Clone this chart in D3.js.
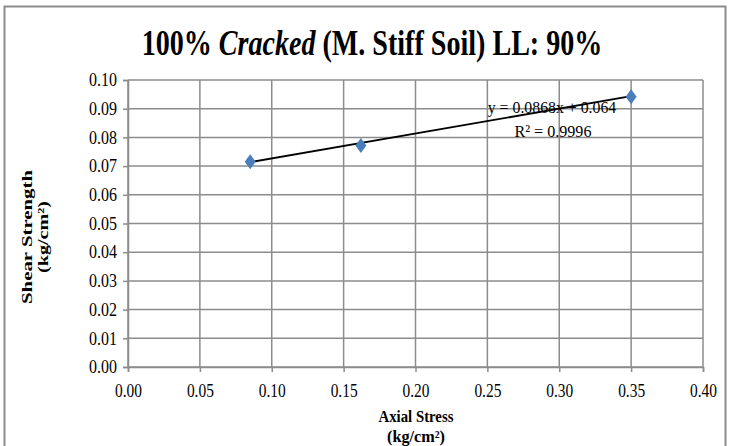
<!DOCTYPE html>
<html>
<head>
<meta charset="utf-8">
<script src="https://cdn.jsdelivr.net/npm/d3@7"></script>
<style>
  html, body { margin: 0; padding: 0; background: #fff; }
  svg { display: block; font-family: "Liberation Serif", "Times New Roman", serif; }
</style>
</head>
<body>
<svg id="chart" width="734" height="446"></svg>
<script>
// Axial stress vs shear strength, 100% cracked medium stiff soil
const axialStress   = [0.085, 0.162, 0.350];
const shearStrength = [0.0715, 0.0772, 0.0942];
const xTicks = [0.00, 0.05, 0.10, 0.15, 0.20, 0.25, 0.30, 0.35, 0.40];
const yTicks = [0.00, 0.01, 0.02, 0.03, 0.04, 0.05, 0.06, 0.07, 0.08, 0.09, 0.10];
const slope = 0.0868, intercept = 0.064, rSquared = 0.9996;

const svg = d3.select("#chart");
const plot = { left: 128, right: 703, top: 80, bottom: 367 };

const x = d3.scaleLinear().domain([0, 0.4]).range([plot.left, plot.right]);
const y = d3.scaleLinear().domain([0, 0.1]).range([plot.bottom, plot.top]);

// squeeze a text element horizontally to a given width around its anchor
function fit(sel, width, cx) {
  const w = sel.node().getBBox().width;
  const k = width / w;
  sel.attr("transform", `translate(${cx},0) scale(${k},1) translate(${-cx},0)`);
}

// outer chart frame
svg.append("path")
  .attr("d", "M4.5,450 V6.5 H725.5 V450")
  .attr("fill", "none").attr("stroke", "#8c8c8c").attr("stroke-width", 2);

// title
const title = svg.append("text")
  .attr("x", 372).attr("y", 55).attr("text-anchor", "middle")
  .attr("font-size", 36).attr("font-weight", "bold").attr("fill", "#000");
title.append("tspan").text("100% ");
title.append("tspan").attr("font-style", "italic").text("Cracked");
title.append("tspan").text(" (M. Stiff Soil) LL: 90%");
fit(title, 461, 372);

// gridlines
const grid = svg.append("g").attr("stroke", "#8c8c8c").attr("stroke-width", 1.5);
grid.selectAll(".gy").data(yTicks).join("line")
  .attr("x1", plot.left).attr("x2", plot.right)
  .attr("y1", d => y(d)).attr("y2", d => y(d));
grid.selectAll(".gx").data(xTicks).join("line")
  .attr("y1", plot.top).attr("y2", plot.bottom)
  .attr("x1", d => x(d)).attr("x2", d => x(d));

// axes
const xAxis = svg.append("g").attr("transform", `translate(0,${plot.bottom})`)
  .call(d3.axisBottom(x).tickValues(xTicks).tickFormat(d3.format(".2f")).tickSizeOuter(0).tickSize(5).tickPadding(12));
const yAxis = svg.append("g").attr("transform", `translate(${plot.left},0)`)
  .call(d3.axisLeft(y).tickValues(yTicks).tickFormat(d3.format(".2f")).tickSizeOuter(0).tickSize(5).tickPadding(6));
[xAxis, yAxis].forEach(a => {
  a.select(".domain").attr("stroke", "#8c8c8c").attr("stroke-width", 1.5);
  a.selectAll(".tick line").attr("stroke", "#8c8c8c").attr("stroke-width", 1.5);
  a.selectAll(".tick text").attr("font-family", "Liberation Serif, serif")
    .attr("font-size", 18).attr("fill", "#000");
});
xAxis.selectAll(".tick text").each(function () {
  const w = this.getBBox().width;
  d3.select(this).attr("transform", `scale(${27 / w},1)`);
});
yAxis.selectAll(".tick text").each(function () {
  const w = this.getBBox().width;
  d3.select(this).attr("transform", `translate(-11,0) scale(${28 / w},1) translate(11,0)`);
});

// trendline over the data range
const x0 = d3.min(axialStress), x1 = d3.max(axialStress);
svg.append("line")
  .attr("x1", x(x0)).attr("y1", y(slope * x0 + intercept))
  .attr("x2", x(x1)).attr("y2", y(slope * x1 + intercept))
  .attr("stroke", "#000").attr("stroke-width", 1.8);

// data markers
const diamond = d3.symbol().type(d3.symbolDiamond).size(65);
svg.selectAll(".pt").data(axialStress).join("path")
  .attr("d", diamond)
  .attr("transform", (d, i) => `translate(${x(d)},${y(shearStrength[i])}) scale(1.27,1)`)
  .attr("fill", "#4a7ebb");

// trendline equation
const eq = svg.append("text").attr("x", 552).attr("y", 113).attr("text-anchor", "middle")
  .attr("font-size", 17).attr("fill", "#000")
  .text(`y = ${slope}x + ${intercept}`);
fit(eq, 129, 552);
const r2 = svg.append("text").attr("x", 553).attr("y", 137).attr("text-anchor", "middle")
  .attr("font-size", 17).attr("fill", "#000")
  .text(`R² = ${rSquared}`);
fit(r2, 77, 553);

// axis titles
const yTitle = svg.append("g").attr("transform", "translate(0,237) rotate(-90)");
const yt1 = yTitle.append("text").attr("x", 0).attr("y", 32).attr("text-anchor", "middle")
  .attr("font-size", 15).attr("font-weight", "bold").text("Shear Strength");
fit(yt1, 135, 0);
const yt2 = yTitle.append("text").attr("x", 0).attr("y", 48).attr("text-anchor", "middle")
  .attr("font-size", 15).attr("font-weight", "bold").text("(kg/cm²)");
fit(yt2, 72, 0);

const xt1 = svg.append("text").attr("x", 416).attr("y", 422).attr("text-anchor", "middle")
  .attr("font-size", 16).attr("font-weight", "bold").text("Axial Stress");
fit(xt1, 75, 416);
const xt2 = svg.append("text").attr("x", 416).attr("y", 442).attr("text-anchor", "middle")
  .attr("font-size", 16).attr("font-weight", "bold").text("(kg/cm²)");
fit(xt2, 58, 416);
</script>
</body>
</html>
